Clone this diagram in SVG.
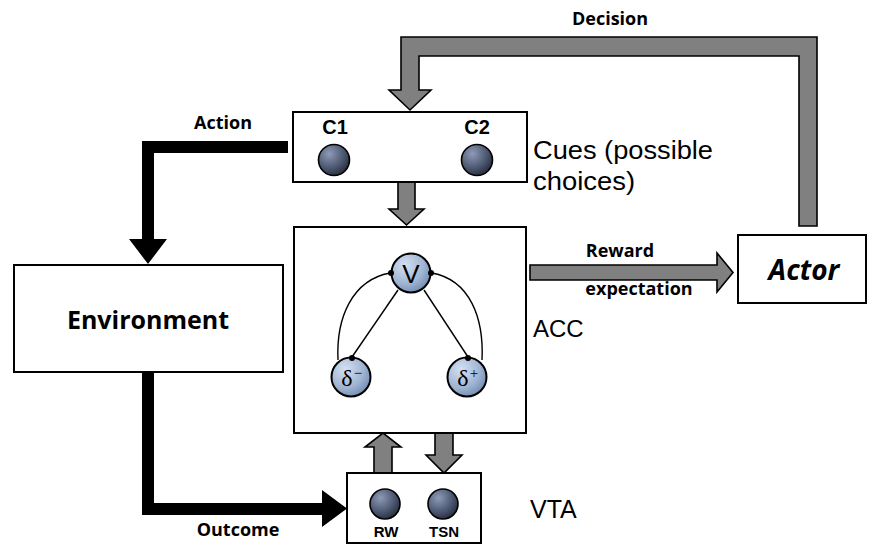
<svg xmlns="http://www.w3.org/2000/svg" width="869" height="546" viewBox="0 0 869 546">
  <defs>
    <radialGradient id="darkBall" cx="0.35" cy="0.3" r="0.75">
      <stop offset="0" stop-color="#8e9bb6"/>
      <stop offset="0.6" stop-color="#4e5a74"/>
      <stop offset="1" stop-color="#262c3a"/>
    </radialGradient>
    <radialGradient id="lightBall" cx="0.35" cy="0.3" r="0.8">
      <stop offset="0" stop-color="#d4e0f2"/>
      <stop offset="0.6" stop-color="#9fb4d2"/>
      <stop offset="1" stop-color="#6a84aa"/>
    </radialGradient>
    <style>
      .box { fill: #ffffff; stroke: #000000; stroke-width: 2; }
      .grey { fill: #808080; stroke: #000000; stroke-width: 1.6; stroke-linejoin: miter; }
      .black { fill: #000000; }
      .cue { fill: url(#darkBall); stroke: #000000; stroke-width: 1.6; }
      .unit { fill: url(#lightBall); stroke: #000000; stroke-width: 2; }
      .wire { fill: none; stroke: #000000; stroke-width: 1.4; }
      .lbl { font-family: "Open Sans", "Liberation Sans", sans-serif; font-weight: bold; fill: #000000; }
      .sans { font-family: "Liberation Sans", Arial, sans-serif; fill: #000000; }
      .serif { font-family: "Liberation Serif", "Times New Roman", serif; fill: #000000; }
    </style>
  </defs>

  <!-- connectors -->
  <g id="connectors">
    <!-- Decision: Actor back up to the cues -->
    <polygon class="grey" points="799,226 799,56 419,56 419,90 431,90 410,110 389,90 401,90 401,37 817,37 817,226"/>
    <!-- Cues into ACC -->
    <polygon class="grey" points="398,182 415,182 415,209 424,209 406.5,225 389,209 398,209"/>
    <!-- VTA up to ACC -->
    <polygon class="grey" points="374,473 374,447 365,447 383,433 401,447 392,447 392,473"/>
    <!-- ACC down to VTA -->
    <polygon class="grey" points="435,433 453,433 453,455 462,455 444,473 426,455 435,455"/>
    <!-- Reward expectation to Actor -->
    <polygon class="grey" points="530,265 717,265 717,253 733,272.5 717,292 717,280 530,280"/>
    <!-- Action: cues to environment -->
    <polygon class="black" points="288,141 142,141 142,239 129,239 148,264 167,239 154,239 154,153 288,153"/>
    <!-- Outcome: environment to VTA -->
    <polygon class="black" points="142,372 142,515 322,515 322,527 347,508.5 322,490 322,503 154,503 154,372"/>

    <text class="lbl" x="610" y="25" font-size="18" text-anchor="middle">Decision</text>
    <text class="lbl" x="223" y="129" font-size="18" text-anchor="middle">Action</text>
    <text class="lbl" x="620" y="257" font-size="18" text-anchor="middle">Reward</text>
    <text class="lbl" x="639" y="295" font-size="18" text-anchor="middle">expectation</text>
    <text class="lbl" x="238" y="536" font-size="18" text-anchor="middle">Outcome</text>
  </g>

  <!-- cue layer -->
  <g id="cues">
    <rect class="box" x="293" y="112" width="234" height="70"/>
    <text class="sans" x="335" y="134" font-size="20" font-weight="bold" text-anchor="middle">C1</text>
    <text class="sans" x="477" y="134" font-size="20" font-weight="bold" text-anchor="middle">C2</text>
    <circle class="cue" cx="334" cy="160" r="15.5"/>
    <circle class="cue" cx="477" cy="160" r="15.5"/>
    <text class="sans" x="533" y="159" font-size="25" textLength="180" lengthAdjust="spacingAndGlyphs">Cues (possible</text>
    <text class="sans" x="533" y="190" font-size="25" textLength="102" lengthAdjust="spacingAndGlyphs">choices)</text>
  </g>

  <!-- anterior cingulate -->
  <g id="acc">
    <rect class="box" x="294" y="227" width="232" height="206" stroke-width="2.4"/>
    <path class="wire" d="M390,273 C352,280 336,318 338,360"/>
    <path class="wire" d="M432,273 C470,280 484,318 482,360"/>
    <line class="wire" x1="398" y1="290" x2="352" y2="357"/>
    <line class="wire" x1="424" y1="290" x2="468" y2="357"/>
    <circle class="unit" cx="411" cy="273" r="19.5"/>
    <circle class="unit" cx="351" cy="377" r="19.5"/>
    <circle class="unit" cx="467" cy="377" r="19.5"/>
    <circle cx="391" cy="273" r="3"/>
    <circle cx="431" cy="273" r="3"/>
    <circle cx="352" cy="358" r="3"/>
    <circle cx="468" cy="358" r="3"/>
    <text class="sans" x="411" y="283" font-size="26" text-anchor="middle">V</text>
    <text class="serif" x="347" y="386" font-size="24" text-anchor="middle">δ</text>
    <text class="serif" x="358" y="378" font-size="15" text-anchor="middle">−</text>
    <text class="serif" x="463" y="386" font-size="24" text-anchor="middle">δ</text>
    <text class="serif" x="474" y="378" font-size="15" text-anchor="middle">+</text>
    <text class="sans" x="533" y="337" font-size="24">ACC</text>
  </g>

  <!-- ventral tegmental area -->
  <g id="vta">
    <rect class="box" x="347" y="473" width="134" height="70"/>
    <circle class="cue" cx="385" cy="504" r="15"/>
    <circle class="cue" cx="443" cy="504" r="15"/>
    <text class="sans" x="386" y="537" font-size="15" font-weight="bold" text-anchor="middle">RW</text>
    <text class="sans" x="444" y="537" font-size="15" font-weight="bold" text-anchor="middle">TSN</text>
    <text class="sans" x="530" y="518" font-size="25">VTA</text>
  </g>

  <g id="environment">
    <rect class="box" x="14" y="265" width="269" height="107"/>
    <text class="lbl" x="148" y="329" font-size="25" text-anchor="middle">Environment</text>
  </g>

  <g id="actor">
    <rect class="box" x="738" y="235" width="128" height="68"/>
    <text class="lbl" x="804" y="280" font-size="28" font-style="italic" text-anchor="middle">Actor</text>
  </g>
</svg>
